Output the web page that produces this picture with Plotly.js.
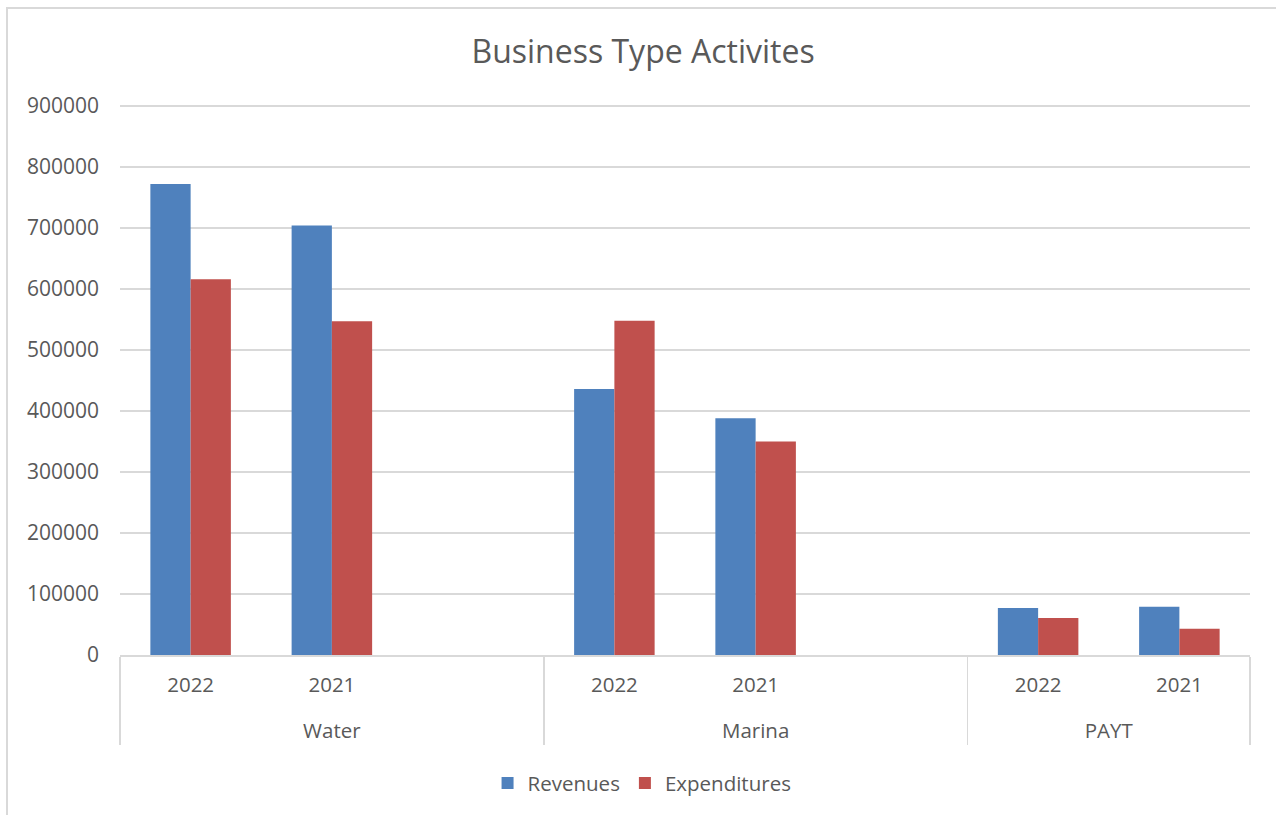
<!DOCTYPE html>
<html>
<head>
<meta charset="utf-8">
<script src="https://cdn.plot.ly/plotly-3.0.1.min.js"></script>
<style>
html, body { margin: 0; padding: 0; background: #ffffff; }
#chart { width: 1276px; height: 815px; }
</style>
</head>
<body>
<div id="chart"></div>
<script>
// Data
const groups = ["Water", "Water", "Water", "Marina", "Marina", "Marina", "PAYT", "PAYT"];
const years = ["2022", "2021", " ", "2022", "2021", " ", "2022", "2021"];
const revenues = [772000, 704000, null, 436000, 388000, null, 77000, 79000];
const expenditures = [616000, 547000, null, 548000, 350000, null, 60500, 43000];
const yTicks = [0, 100000, 200000, 300000, 400000, 500000, 600000, 700000, 800000, 900000];

const textColor = "#595959";
const gridColor = "#d9d9d9";
const font = "Open Sans, Noto Sans, sans-serif";

// group labels pushed one line lower to mimic the wider spacing between label levels
const groupLabels = groups.map(g => "<br>" + g);

const traces = [
  {
    type: "bar", name: "Revenues", x: [groupLabels, years], y: revenues,
    marker: { color: "#4f81bd" }
  },
  {
    type: "bar", name: "Expenditures", x: [groupLabels, years], y: expenditures,
    marker: { color: "#c0504d" }
  }
];

const layout = {
  width: 1276, height: 815,
  margin: { l: 120, r: 26, t: 103, b: 160 },
  paper_bgcolor: "#ffffff", plot_bgcolor: "#ffffff",
  font: { family: font, size: 20, color: textColor },
  title: {
    text: "Business Type Activites",
    font: { family: font, size: 32, color: textColor },
    x: 0.504, xanchor: "center", y: 0.936, yanchor: "middle"
  },
  barmode: "group",
  bargap: 0.43,
  bargroupgap: 0,
  xaxis: {
    type: "multicategory",
    showgrid: false,
    showline: true, linecolor: gridColor, linewidth: 1.5,
    showdividers: true, dividercolor: gridColor, dividerwidth: 1.5,
    ticks: "",
    ticklabelstandoff: 11,
    tickfont: { family: font, size: 20.5, color: textColor }
  },
  yaxis: {
    range: [0, 905000],
    tickvals: yTicks,
    ticktext: yTicks.map(String),
    showgrid: true, gridcolor: gridColor, gridwidth: 1.5,
    zeroline: false, showline: false,
    ticks: "", ticklen: 0,
    ticklabelstandoff: 20,
    tickfont: { family: font, size: 21, color: textColor }
  },
  legend: {
    orientation: "h", x: 0.462, xanchor: "center", y: -0.232, yanchor: "middle",
    font: { family: font, size: 20.5, color: textColor },
    itemwidth: 30, traceorder: "normal"
  },
  showlegend: true,
  shapes: [
    {
      type: "path", xref: "paper", yref: "paper",
      path: "M -0.1 -0.3 L -0.1 1.1721 L 1.05 1.1721",
      line: { color: gridColor, width: 2 }
    }
  ]
};

Plotly.newPlot("chart", traces, layout, { displayModeBar: false, staticPlot: true });
</script>
</body>
</html>
